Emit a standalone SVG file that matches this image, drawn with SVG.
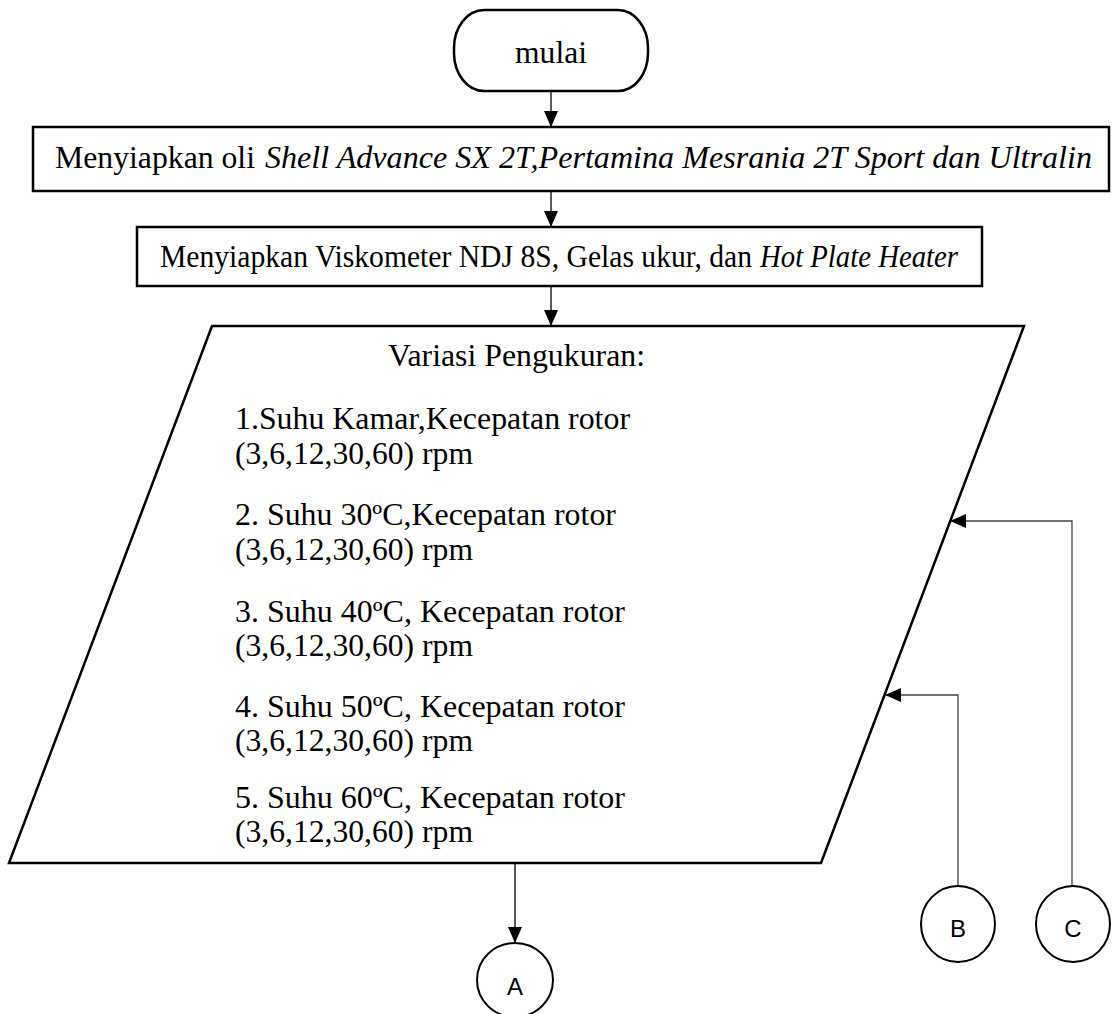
<svg xmlns="http://www.w3.org/2000/svg" width="1112" height="1014" viewBox="0 0 1112 1014">
<style>
.shape{fill:#fff;stroke:#000;stroke-width:2.5}
.circ{fill:#fff;stroke:#000;stroke-width:2}
.conn{fill:none;stroke:#000;stroke-width:1.3}
.gray{stroke:#444}
.t{font-family:"Liberation Serif","Times New Roman",serif;font-size:31px;fill:#000}
.i{font-style:italic}
.s{font-family:"Liberation Sans",Arial,sans-serif;font-size:24px;fill:#000;text-anchor:middle}
</style>
<defs>
<marker id="ah" markerUnits="userSpaceOnUse" markerWidth="16" markerHeight="14" refX="16" refY="7" orient="auto">
<path d="M0,0 L16,7 L0,14 z" fill="#000"/>
</marker>
</defs>
<rect width="1112" height="1014" fill="#fff"/>
<g id="connectors">
<path class="conn" d="M551,92 V127" marker-end="url(#ah)"/>
<path class="conn" d="M551,192 V227" marker-end="url(#ah)"/>
<path class="conn" d="M551,287 V326" marker-end="url(#ah)"/>
<path class="conn" d="M515,864 V943" marker-end="url(#ah)"/>
<path class="conn gray" d="M958,886 V695 H885" marker-end="url(#ah)"/>
<path class="conn gray" d="M1072,886 V521 H950" marker-end="url(#ah)"/>
</g>
<g id="start">
<rect class="shape" x="454" y="10" width="194" height="81" rx="30" ry="38"/>
<text class="t" x="551" y="63" text-anchor="middle" textLength="72" lengthAdjust="spacingAndGlyphs">mulai</text>
</g>
<g id="step1">
<rect class="shape" x="33" y="127" width="1076" height="64"/>
<text class="t" x="55" y="168" textLength="200" lengthAdjust="spacingAndGlyphs">Menyiapkan oli</text>
<text class="t i" x="265" y="168" textLength="827" lengthAdjust="spacingAndGlyphs">Shell Advance SX 2T,Pertamina Mesrania 2T Sport dan Ultralin</text>
</g>
<g id="step2">
<rect class="shape" x="137" y="227" width="845" height="59"/>
<text class="t" x="160" y="267" textLength="592" lengthAdjust="spacingAndGlyphs">Menyiapkan Viskometer NDJ 8S, Gelas ukur, dan</text>
<text class="t i" x="760" y="267" textLength="198" lengthAdjust="spacingAndGlyphs">Hot Plate Heater</text>
</g>
<g id="input">
<polygon class="shape" points="212,326 1024,326 821,863 9,863"/>
<text class="t" x="388" y="366" textLength="257" lengthAdjust="spacingAndGlyphs">Variasi Pengukuran:</text>
<text class="t" x="235" y="429" textLength="395" lengthAdjust="spacingAndGlyphs">1.Suhu Kamar,Kecepatan rotor</text>
<text class="t" x="235" y="464" textLength="238" lengthAdjust="spacingAndGlyphs">(3,6,12,30,60) rpm</text>
<text class="t" x="235" y="525" textLength="381" lengthAdjust="spacingAndGlyphs">2. Suhu 30ºC,Kecepatan rotor</text>
<text class="t" x="235" y="560" textLength="238" lengthAdjust="spacingAndGlyphs">(3,6,12,30,60) rpm</text>
<text class="t" x="235" y="622" textLength="390" lengthAdjust="spacingAndGlyphs">3. Suhu 40ºC, Kecepatan rotor</text>
<text class="t" x="235" y="656" textLength="238" lengthAdjust="spacingAndGlyphs">(3,6,12,30,60) rpm</text>
<text class="t" x="235" y="717" textLength="390" lengthAdjust="spacingAndGlyphs">4. Suhu 50ºC, Kecepatan rotor</text>
<text class="t" x="235" y="751" textLength="238" lengthAdjust="spacingAndGlyphs">(3,6,12,30,60) rpm</text>
<text class="t" x="235" y="808" textLength="390" lengthAdjust="spacingAndGlyphs">5. Suhu 60ºC, Kecepatan rotor</text>
<text class="t" x="235" y="842" textLength="238" lengthAdjust="spacingAndGlyphs">(3,6,12,30,60) rpm</text>
</g>
<g id="connA">
<ellipse class="circ" cx="515" cy="980" rx="38" ry="37"/>
<text class="s" x="515" y="995">A</text>
</g>
<g id="connB">
<ellipse class="circ" cx="958" cy="924" rx="37" ry="38"/>
<text class="s" x="958" y="937">B</text>
</g>
<g id="connC">
<ellipse class="circ" cx="1073" cy="924" rx="37" ry="38"/>
<text class="s" x="1073" y="937">C</text>
</g>
</svg>
